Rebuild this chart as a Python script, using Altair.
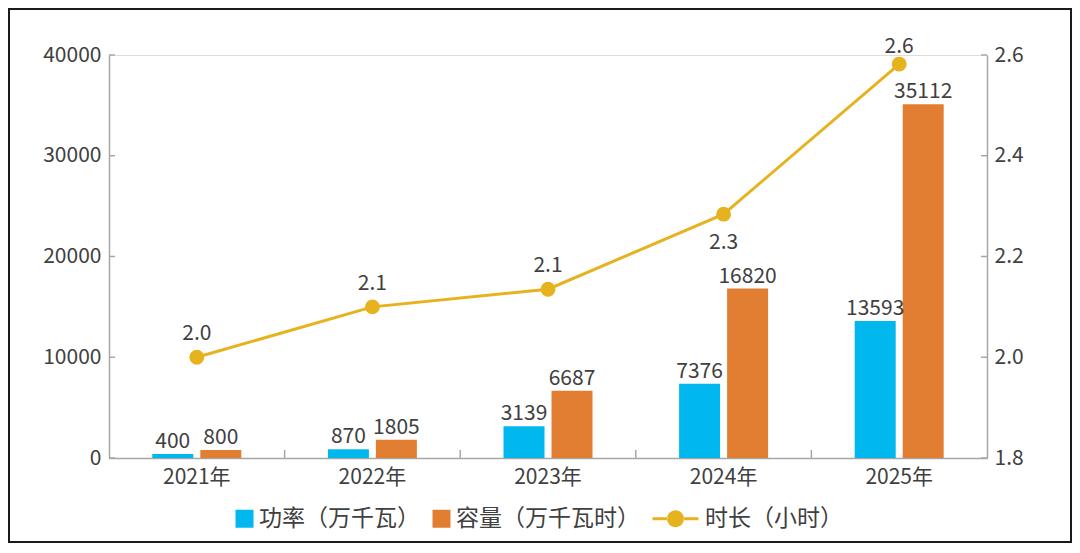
import altair as alt
import pandas as pd

# ---------------- data ----------------
years = ["2021年", "2022年", "2023年", "2024年", "2025年"]
power = [400, 870, 3139, 7376, 13593]          # 功率（万千瓦）
capacity = [800, 1805, 6687, 16820, 35112]     # 容量（万千瓦时）
duration = [2.0, 2.10, 2.135, 2.284, 2.582]    # 时长（小时）
series_names = ["功率（万千瓦）", "容量（万千瓦时）", "时长（小时）"]
left_ticks = [0, 10000, 20000, 30000, 40000]
right_ticks = [1.8, 2.0, 2.2, 2.4, 2.6]

# ---------------- style ----------------
colors = ["#00B7EE", "#E27E32", "#E6B31E"]
FONT = "Noto Sans CJK SC"
TEXT = "#404040"
AXIS_GRAY = "#A6A6A6"
W, H = 878, 403

bar_df = pd.DataFrame({
    "year": years * 2,
    "series": [series_names[0]] * len(years) + [series_names[1]] * len(years),
    "value": power + capacity,
})
line_df = pd.DataFrame({"year": years, "series": series_names[2], "duration": duration})

line_sym = ("M-2.556,-0.167 L-0.9,-0.167 L-0.9,0.167 L-2.556,0.167 Z "
            "M0.9,-0.167 L2.556,-0.167 L2.556,0.167 L0.9,0.167 Z "
            "M-0.94,0 A0.94,0.94 0 1,0 0.94,0 A0.94,0.94 0 1,0 -0.94,0 Z")
is_line = "datum.value === '" + series_names[2] + "'"

legend = alt.Legend(
    title=None, orient="none", direction="horizontal",
    legendX=124, legendY=452,
    symbolSize=324, symbolStrokeWidth=0, symbolOpacity=1,
    symbolType=alt.ExprRef(is_line + " ? '" + line_sym + "' : 'square'"),
    symbolOffset=alt.ExprRef(is_line + " ? 14 : 0"),
    labelFont=FONT, labelFontSize=23, labelColor=TEXT, labelLimit=400,
    labelOffset=alt.ExprRef(is_line + " ? 18 : 3"), columnPadding=10,
)
color_scale = alt.Scale(domain=series_names, range=colors)
color_enc = alt.Color("series:N", scale=color_scale, legend=legend)

x_scale = alt.Scale(domain=years, paddingInner=0, paddingOuter=0)
x_axis = alt.Axis(title=None, labelAngle=0, ticks=False, grid=False,
                  domainColor=AXIS_GRAY, domainWidth=1.5, labelPadding=8,
                  labelFontSize=21, labelOverlap=False, labelColor=TEXT, labelFont=FONT)
x_enc = alt.X("year:N", scale=x_scale, axis=x_axis)

xoff = alt.XOffset("series:N", scale=alt.Scale(domain=series_names[:2],
                                                paddingInner=0.146, paddingOuter=0.902))

yl_scale = alt.Scale(domain=[0, 40000], nice=False)
yl_axis = alt.Axis(title=None, orient="left", values=left_ticks, format="d",
                   ticks=False, grid=False, domainColor=AXIS_GRAY, domainWidth=1.5,
                   labelOverlap=False, labelPadding=8, labelFontSize=21,
                   labelColor=TEXT, labelFont=FONT)
yr_scale = alt.Scale(domain=[1.8, 2.6], nice=False, zero=False)
yr_axis = alt.Axis(title=None, orient="right", values=right_ticks, format=".1f",
                   ticks=False, grid=False, domainColor=AXIS_GRAY, domainWidth=1.5,
                   labelOverlap=False, labelPadding=7, labelFontSize=21,
                   labelColor=TEXT, labelFont=FONT)

# ---------------- left (bars) ----------------
y_bar = alt.Y("value:Q", scale=yl_scale, axis=yl_axis)
bars = alt.Chart(bar_df).mark_bar().encode(
    x=x_enc, xOffset=xoff, y=y_bar, color=color_enc,
)
bar_text = alt.Chart(bar_df).mark_text(
    dy=-6, baseline="alphabetic", fontSize=21, color=TEXT, font=FONT
).encode(
    x=x_enc, xOffset=xoff, y=y_bar,
    text=alt.Text("value:Q", format="d"),
)
left_tick_rules = alt.Chart(pd.DataFrame({"value": left_ticks})).mark_rule(
    color=AXIS_GRAY, strokeWidth=1.5
).encode(
    y=y_bar, x=alt.value(0), x2=alt.value(6),
)
x_tick_rules = alt.Chart(pd.DataFrame({"year": years[1:]})).mark_rule(
    color=AXIS_GRAY, strokeWidth=1.5
).encode(
    x=alt.X("year:N", scale=x_scale, axis=x_axis, bandPosition=0),
    y=alt.value(H - 8), y2=alt.value(H),
)
frame = alt.Chart(pd.DataFrame({"f": [0]})).mark_rect(
    fillOpacity=0, stroke="#1A1A1A", strokeWidth=2
).encode(
    x=alt.value(-100), x2=alt.value(962), y=alt.value(-46), y2=alt.value(487),
)
left = alt.layer(bars, bar_text, left_tick_rules, x_tick_rules, frame)

# ---------------- right (line) ----------------
y_line = alt.Y("duration:Q", scale=yr_scale, axis=yr_axis)
line = alt.Chart(line_df).mark_line(strokeWidth=3).encode(x=x_enc, y=y_line, color=color_enc)
pts = alt.Chart(line_df).mark_circle(size=220, opacity=1).encode(
    x=x_enc, y=y_line, color=color_enc)


def line_label(cond, dy):
    return alt.Chart(line_df).transform_filter(cond).mark_text(
        dy=dy, baseline="alphabetic", fontSize=21, color=TEXT, font=FONT
    ).encode(
        x=x_enc, y=y_line,
        text=alt.Text("duration:Q", format=".1f"),
    )


lab_a = line_label(alt.FieldOneOfPredicate(field="year", oneOf=years[:3]), -17)
lab_b = line_label(alt.FieldEqualPredicate(field="year", equal=years[3]), 35)
lab_c = line_label(alt.FieldEqualPredicate(field="year", equal=years[4]), -11)
right_tick_rules = alt.Chart(pd.DataFrame({"duration": right_ticks})).mark_rule(
    color=AXIS_GRAY, strokeWidth=1.5
).encode(
    y=y_line, x=alt.value(W - 6), x2=alt.value(W),
)
right = alt.layer(line, pts, lab_a, lab_b, lab_c, right_tick_rules)

chart = alt.layer(left, right).resolve_scale(y="independent").properties(
    width=W, height=H,
    padding={"left": 101, "top": 47, "right": 85, "bottom": 85},
    autosize=alt.AutoSizeParams(type="none"),
    background="white",
).configure_view(strokeWidth=0).configure(font=FONT).configure_legend(padding=0)

chart.save("out.html", embed_options={"renderer": "svg", "actions": False})
